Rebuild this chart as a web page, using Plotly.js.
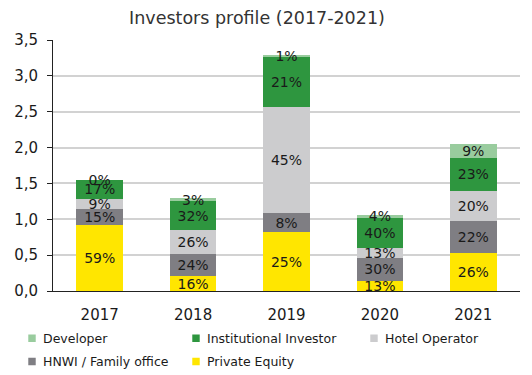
<!DOCTYPE html>
<html>
<head>
<meta charset="utf-8">
<script src="https://cdn.plot.ly/plotly-3.0.1.min.js"></script>
<style>
html,body{margin:0;padding:0;background:#fff;}
#chart{width:532px;height:375px;}
#chart .legendpoints path{transform:translate(29px,0) scale(0.62);}
</style>
</head>
<body>
<div id="chart"></div>
<script>
var years = ['2017', '2018', '2019', '2020', '2021'];
var privateEquity = [0.915, 0.205, 0.82, 0.14, 0.53];
var hnwi = [0.232, 0.307, 0.265, 0.32, 0.45];
var hotelOperator = [0.14, 0.333, 1.48, 0.14, 0.41];
var institutional = [0.26, 0.41, 0.70, 0.42, 0.47];
var developer = [0.005, 0.035, 0.02, 0.04, 0.185];
var yTicks = [0, 0.5, 1, 1.5, 2, 2.5, 3, 3.5];

var totals = years.map(function (_, i) {
  return privateEquity[i] + hnwi[i] + hotelOperator[i] + institutional[i] + developer[i];
});
function pctText(arr) {
  return arr.map(function (v, i) { return Math.round(v / totals[i] * 100) + '%'; });
}

var FONT = 'DejaVu Sans, Verdana, sans-serif';
function series(name, vals, color, legend, rank) {
  return {
    type: 'bar', name: name, x: years, y: vals,
    marker: {color: color, line: {width: 0}},
    text: pctText(vals), textposition: 'inside', insidetextanchor: 'middle',
    textfont: {family: FONT, size: 14, color: '#1a1a1a'},
    constraintext: 'none', cliponaxis: false,
    hoverinfo: 'skip', legend: legend, legendgroup: 'g' + rank, legendrank: rank
  };
}

var data = [
  series('Private Equity', privateEquity, '#FFE600', 'legend2', 5),
  series('HNWI / Family office', hnwi, '#7F7E83', 'legend', 4),
  series('Hotel Operator', hotelOperator, '#CCCCCE', 'legend3', 3),
  series('Institutional Investor', institutional, '#2E963F', 'legend2', 2),
  series('Developer', developer, '#99CC9E', 'legend', 1)
];

var legendCommon = {
  orientation: 'v', traceorder: 'grouped', tracegroupgap: 4,
  font: {family: FONT, size: 12.5, color: '#1a1a1a'},
  bgcolor: 'rgba(0,0,0,0)', borderwidth: 0,
  xref: 'paper', yref: 'container', xanchor: 'left', yanchor: 'top'
};

var plotLeft = 53, plotW = 467;
function px(xp) { return (xp - plotLeft) / plotW; }

var layout = {
  width: 532, height: 375,
  margin: {l: 53, r: 12, t: 40, b: 84},
  paper_bgcolor: '#fff', plot_bgcolor: '#fff',
  separators: ',.',
  barmode: 'stack', bargap: 0.5,
  showlegend: true,
  uniformtext: {minsize: 14, mode: 'show'},
  title: {
    text: 'Investors profile (2017-2021)',
    font: {family: FONT, size: 17.5, color: '#333'},
    x: 0.483, xanchor: 'center', y: 0.952, yanchor: 'middle'
  },
  xaxis: {
    type: 'category', showgrid: false, zeroline: false,
    showline: true, linecolor: '#222', linewidth: 1,
    ticks: '', ticklabelstandoff: 10,
    tickfont: {family: FONT, size: 15, color: '#1a1a1a'}
  },
  yaxis: {
    range: [0, 3.5], tickvals: yTicks, tickformat: '.1f',
    showgrid: true, gridcolor: '#D2D2D2', gridwidth: 2,
    zeroline: false, showline: true, linecolor: '#222', linewidth: 1,
    ticks: 'outside', ticklen: 5, tickcolor: '#222', tickwidth: 1,
    ticklabelstandoff: 6,
    tickfont: {family: FONT, size: 15, color: '#1a1a1a'}
  },
  legend: Object.assign({}, legendCommon, {x: px(3), y: 0.137}),
  legend2: Object.assign({}, legendCommon, {x: px(167), y: 0.137}),
  legend3: Object.assign({}, legendCommon, {x: px(345), y: 0.137})
};

Plotly.newPlot('chart', data, layout, {displayModeBar: false, staticPlot: true});
</script>
</body>
</html>
